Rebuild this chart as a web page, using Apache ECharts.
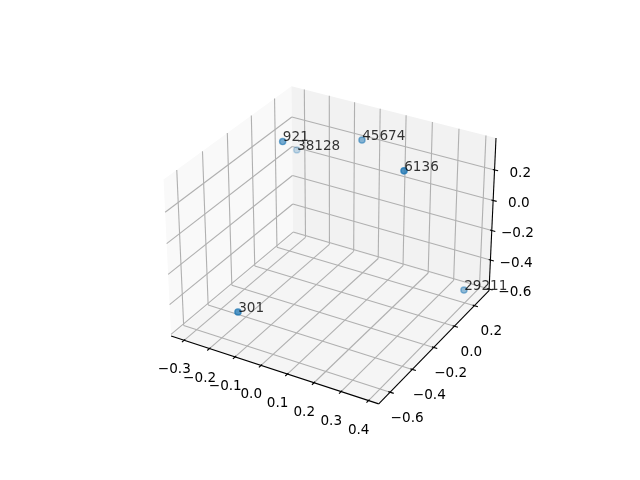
<!DOCTYPE html><html><head><meta charset="utf-8"><style>html,body{margin:0;background:#fff;overflow:hidden}#c{width:640px;height:480px}</style><script src="https://cdn.jsdelivr.net/npm/echarts@6/dist/echarts.min.js"></script></head><body><div id="c"></div><script>
const pointNames=['301','921','38128','45674','6136','29211'];
const pointX=[-0.096,-0.188,-0.317,0.002,0.273,0.410];
const pointY=[-0.675,-0.089,0.315,0.178,-0.098,0.159];
const pointZ=[-0.329,0.359,0.012,0.299,0.386,-0.491];
const xTicks=[-0.3,-0.2,-0.1,0,0.1,0.2,0.3,0.4];
const yTicks=[-0.6,-0.4,-0.2,0,0.2];
const zTicks=[-0.6,-0.4,-0.2,0,0.2];
const xLim=[-0.352,0.437],yLim=[-0.70,0.35],zLim=[-0.612,0.405];

const A=[1.1905,1.1905,0.8929],el=30*Math.PI/180,az=-60*Math.PI/180,D=10;
const R=A.map(a=>a/2);
const w=[Math.cos(el)*Math.cos(az),Math.cos(el)*Math.sin(az),Math.sin(el)];
const E=R.map((r,i)=>r+D*w[i]);
const cross=(a,b)=>[a[1]*b[2]-a[2]*b[1],a[2]*b[0]-a[0]*b[2],a[0]*b[1]-a[1]*b[0]];
const dot=(a,b)=>a[0]*b[0]+a[1]*b[1]+a[2]*b[2];
let u=cross([0,0,1],w);const ul=Math.sqrt(dot(u,u));u=u.map(c=>c/ul);const v=cross(w,u);
// Perspective projection of data values onto the hidden 2D value axes.
function proj(x,y,z){
  const p=[(x-xLim[0])/(xLim[1]-xLim[0])*A[0],(y-yLim[0])/(yLim[1]-yLim[0])*A[1],(z-zLim[0])/(zLim[1]-zLim[0])*A[2]];
  const d=p.map((c,i)=>c-E[i]);const dp=-dot(w,d);const xp=dot(u,d)/dp,yp=dot(v,d)/dp;
  return [143.2+(xp+0.095)/0.185*369.6,427.2-(yp+0.095)/0.185*369.6,dot(w,p.map((c,i)=>c-R[i]))];
}
const seg=(a,b)=>[...proj(...a).slice(0,2),...proj(...b).slice(0,2)];
const [x0,x1]=xLim,[y0,y1]=yLim,[z0,z1]=zLim;
const panes=[[[x0,y0,z0],[x0,y1,z0],[x0,y1,z1],[x0,y0,z1]],[[x0,y1,z0],[x1,y1,z0],[x1,y1,z1],[x0,y1,z1]],[[x0,y0,z0],[x1,y0,z0],[x1,y1,z0],[x0,y1,z0]]];
const paneCol=['#f9f9f9','#f2f2f2','#f5f5f5'];
const grid=[];
xTicks.forEach(t=>{grid.push(seg([t,y0,z0],[t,y1,z0]),seg([t,y1,z0],[t,y1,z1]))});
yTicks.forEach(t=>{grid.push(seg([x1,t,z0],[x0,t,z0]),seg([x0,t,z0],[x0,t,z1]))});
zTicks.forEach(t=>{grid.push(seg([x0,y0,t],[x0,y1,t]),seg([x0,y1,t],[x1,y1,t]))});
const axes=[seg([x0,y0,z0],[x1,y0,z0]),seg([x1,y0,z0],[x1,y1,z0]),seg([x1,y1,z0],[x1,y1,z1])];
const dx=(x1-x0)/12,dy=(y1-y0)/12;
xTicks.forEach(t=>axes.push(seg([t,y0+.1*dy,z0],[t,y0-.2*dy,z0])));
yTicks.forEach(t=>axes.push(seg([x1-.1*dx,t,z0],[x1+.2*dx,t,z0])));
zTicks.forEach(t=>axes.push(seg([x1-.1*dx,y1,t],[x1+.2*dx,y1,t])));
const lab=(t,p,o)=>{const a=proj(...p);return [a[0]+o[0],a[1]+o[1],(t<0?'\u2212':'')+Math.abs(t).toFixed(1)]};
const labels=[...xTicks.map(t=>lab(t,[t,y0,z0],[-9.8,29.5])),...yTicks.map(t=>lab(t,[x1,t,z0],[17,26])),...zTicks.map(t=>lab(t,[x1,y1,t],[25.7,3.5]))];
// Depth shading: nearest point is opaque, farthest is 0.3.
const pts=pointNames.map((n,i)=>{const a=proj(pointX[i],pointY[i],pointZ[i]);return {name:n,xy:a.slice(0,2),d:a[2]}});
const dMin=Math.min(...pts.map(p=>p.d)),dMax=Math.max(...pts.map(p=>p.d));
const shade=d=>'rgba(31,119,180,'+(0.3+0.7*(d-dMin)/(dMax-dMin)).toFixed(3)+')';
const chart=echarts.init(document.getElementById('c'),null,{renderer:'canvas'});
const line=(data,c,wd)=>({type:'custom',silent:true,data,encode:{x:[0,2],y:[1,3]},renderItem:(p,api)=>{const a=api.coord([api.value(0),api.value(1)]),b=api.coord([api.value(2),api.value(3)]);return {type:'line',shape:{x1:a[0],y1:a[1],x2:b[0],y2:b[1]},style:{stroke:c,lineWidth:wd,fill:null}}}});
chart.setOption({animation:false,
grid:{left:0,top:0,width:640,height:480},xAxis:{type:'value',min:0,max:640,show:false},yAxis:{type:'value',min:0,max:480,inverse:true,show:false},
series:[
{type:'custom',silent:true,data:panes.map((p,i)=>[i]),renderItem:(pr,api)=>{const i=api.value(0);return {type:'polygon',shape:{points:panes[i].map(c=>{const a=proj(...c);return api.coord([a[0],a[1]])})},style:{fill:paneCol[i]}}}},
line(grid,'#b0b0b0',1.1),line(axes,'#000',1.1),
{type:'scatter',data:pts.map(p=>({name:p.name,value:p.xy,itemStyle:{color:shade(p.d),borderColor:shade(p.d),borderWidth:1.39}})),symbolSize:6.2,label:{show:true,formatter:'{b}',position:[4,4],align:'left',verticalAlign:'bottom',offset:[0,3],color:'#000',fontSize:13.6,fontFamily:'DejaVu Sans'}},
{type:'custom',silent:true,data:labels,renderItem:(p,api)=>{const a=api.coord([api.value(0),api.value(1)]);return {type:'text',style:{x:a[0],y:a[1],text:labels[p.dataIndex][2],fill:'#000',font:'13.6px "DejaVu Sans"',textAlign:'center',textVerticalAlign:'middle'}}}}
]});
</script></body></html>
